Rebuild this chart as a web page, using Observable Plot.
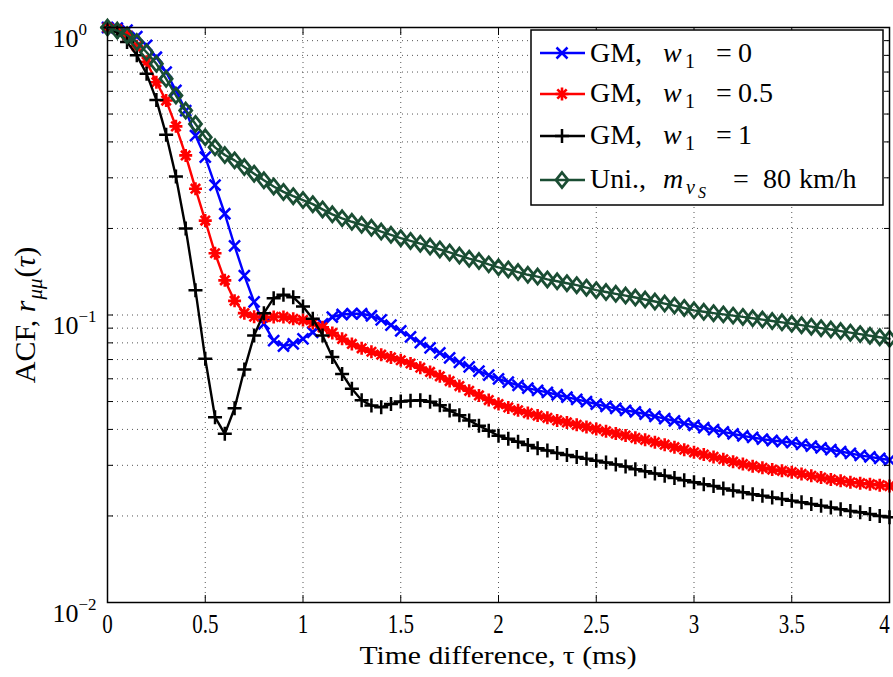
<!DOCTYPE html>
<html><head><meta charset="utf-8">
<script src="https://cdn.jsdelivr.net/npm/d3@7"></script>
<script src="https://cdn.jsdelivr.net/npm/@observablehq/plot@0.6"></script>
<style>
body{margin:0;background:#fff;}
#chart{width:893px;height:677px;}
</style></head><body><div id="chart"></div>
<script>
const tau = [0,0.05,0.1,0.15,0.2,0.25,0.3,0.35,0.4,0.45,0.5,0.55,0.6,0.65,0.7,0.75,0.8,0.85,0.9,0.95,
1,1.05,1.1,1.15,1.2,1.25,1.3,1.35,1.4,1.45,1.5,1.55,1.6,1.65,1.7,1.75,1.8,1.85,1.9,1.95,
2,2.05,2.1,2.15,2.2,2.25,2.3,2.35,2.4,2.45,2.5,2.55,2.6,2.65,2.7,2.75,2.8,2.85,2.9,2.95,
3,3.05,3.1,3.15,3.2,3.25,3.3,3.35,3.4,3.45,3.5,3.55,3.6,3.65,3.7,3.75,3.8,3.85,3.9,3.95,4];

const gmW0 = [1.0,0.995,0.98,0.93,0.866,0.788,0.699,0.604,0.514,0.421,0.354,0.283,0.225,0.174,0.137,0.111,0.0932,0.0815,0.0779,0.0794,
0.0826,0.0871,0.0932,0.0983,0.1004,0.101,0.101,0.0994,0.0962,0.0922,0.0880,0.0840,0.0802,0.0768,0.0738,0.0709,0.0684,0.066,0.0638,0.0618,
0.06,0.0584,0.0569,0.0557,0.0547,0.0538,0.0528,0.0518,0.0509,0.05,0.049,0.0481,0.0473,0.0466,0.046,0.0452,0.0444,0.0436,0.0428,0.042,
0.0413,0.0406,0.0399,0.0392,0.0386,0.038,0.0375,0.037,0.0366,0.0363,0.036,0.0355,0.035,0.0345,0.034,0.0335,0.033,0.0325,0.0321,0.0317,0.0313];

const gmW05 = [1.0,0.985,0.94,0.86,0.76,0.645,0.557,0.453,0.359,0.275,0.213,0.164,0.132,0.112,0.1015,0.0987,0.098,0.0985,0.0985,0.097,
0.096,0.0937,0.0906,0.0866,0.0826,0.0793,0.0766,0.0745,0.0728,0.0712,0.0696,0.0678,0.0656,0.0634,0.0612,0.0589,0.0566,0.0545,0.0525,0.0506,
0.049,0.0477,0.0466,0.0456,0.0447,0.0439,0.043,0.0423,0.0415,0.0408,0.0401,0.0394,0.0387,0.0381,0.0374,0.0368,0.0361,0.0354,0.0347,0.034,
0.0333,0.0327,0.0321,0.0315,0.0309,0.0303,0.0298,0.0294,0.029,0.0287,0.0284,0.028,0.0276,0.0272,0.0268,0.0265,0.0262,0.026,0.0258,0.0256,0.0254];

const gmW1 = [1.0,0.965,0.89,0.80,0.69,0.56,0.424,0.303,0.2,0.122,0.0704,0.0441,0.0386,0.0474,0.0646,0.0849,0.1015,0.1144,0.1175,0.1153,
0.107,0.097,0.0849,0.0714,0.0624,0.0554,0.0505,0.0484,0.0478,0.049,0.05,0.0503,0.0505,0.0499,0.0485,0.0465,0.0448,0.043,0.0412,0.0396,
0.038,0.0371,0.0362,0.0353,0.0344,0.0338,0.0331,0.0326,0.0321,0.0316,0.0311,0.0307,0.0302,0.0297,0.0291,0.0286,0.0281,0.0276,0.0271,0.0266,
0.0262,0.0258,0.0254,0.0249,0.0245,0.0242,0.0238,0.0235,0.0232,0.0229,0.0226,0.0223,0.022,0.0217,0.0214,0.0211,0.0208,0.0206,0.0203,0.02,0.0198];

const uni80 = [1.0,0.976,0.94,0.89,0.82,0.748,0.663,0.58,0.514,0.462,0.415,0.383,0.36,0.345,0.327,0.31,0.294,0.28,0.268,0.259,
0.251,0.243,0.233,0.224,0.217,0.211,0.206,0.201,0.195,0.19,0.185,0.181,0.177,0.173,0.169,0.165,0.161,0.157,0.154,0.15,
0.1465,0.144,0.141,0.138,0.136,0.133,0.131,0.129,0.127,0.1245,0.122,0.1202,0.1185,0.1168,0.115,0.1132,0.1114,0.1096,0.1078,0.1058,
0.1038,0.1026,0.1015,0.1005,0.0995,0.0985,0.0974,0.0964,0.0953,0.0943,0.0932,0.0922,0.0911,0.09,0.089,0.0879,0.0868,0.0858,0.0847,0.0837,0.0826];

const xTicks = [0,0.5,1,1.5,2,2.5,3,3.5,4];
const xTickLabels = ["0","0.5","1","1.5","2","2.5","3","3.5","4"];
const yGrid = [0.01,0.02,0.03,0.04,0.05,0.06,0.07,0.08,0.09,0.1,0.2,0.3,0.4,0.5,0.6,0.7,0.8,0.9,1];
const yDecades = [0.01,0.1,1];
const yExp = ["\u22122","\u22121","0"];

// custom marker shapes (MATLAB-like)
const symX = {draw(c, s){const r=Math.sqrt(s/Math.PI); c.moveTo(-r,-r); c.lineTo(r,r); c.moveTo(-r,r); c.lineTo(r,-r);}};
const symStar = {draw(c, s){const r=Math.sqrt(s/Math.PI); const q=r*0.72; c.moveTo(-r,0); c.lineTo(r,0); c.moveTo(0,-r); c.lineTo(0,r); c.moveTo(-q,-q); c.lineTo(q,q); c.moveTo(-q,q); c.lineTo(q,-q);}};
const symPlus = {draw(c, s){const r=Math.sqrt(s/Math.PI); c.moveTo(-r,0); c.lineTo(r,0); c.moveTo(0,-r); c.lineTo(0,r);}};
const symDiamond = {draw(c, s){const r=Math.sqrt(s/Math.PI); const w=r*0.8; c.moveTo(0,-r); c.lineTo(w,0); c.lineTo(0,r); c.lineTo(-w,0); c.closePath();}};

const series = [
  {key:"w0", values: gmW0, color:"#0000ff", symbol: symX, r:5.5, sw:2.5},
  {key:"w05", values: gmW05, color:"#ff0000", symbol: symStar, r:6.5, sw:2.6},
  {key:"w1", values: gmW1, color:"#000000", symbol: symPlus, r:7, sw:2.5},
  {key:"uni", values: uni80, color:"#1a4d33", symbol: symDiamond, r:7.5, sw:2.8}
];
const rowsOf = s => tau.map((t,i) => ({t, v: s.values[i]}));

const gridStyle = {stroke:"#555", strokeOpacity:1, strokeWidth:1, strokeDasharray:"1,4"};
const marks = [
  Plot.gridX(xTicks, gridStyle),
  Plot.gridY(yGrid, gridStyle)
];
for (const s of series) {
  const rows = rowsOf(s);
  marks.push(Plot.line(rows, {x:"t", y:"v", stroke:s.color, strokeWidth:2.4}));
  marks.push(Plot.dot(rows, {x:"t", y:"v", symbol:s.symbol, r:s.r, stroke:s.color, fill:"none", strokeWidth:s.sw}));
}
marks.push(
  Plot.frame({stroke:"black", strokeWidth:1.5}),
  Plot.axisX(xTicks, {anchor:"bottom", tickSize:-7, tickFormat:()=>"", label:null}),
  Plot.axisX(xTicks, {anchor:"top", tickSize:-7, tickFormat:()=>"", label:null}),
  Plot.axisY(yGrid, {anchor:"left", tickSize:-6, tickFormat:()=>"", label:null}),
  Plot.axisY(yGrid, {anchor:"right", tickSize:-6, tickFormat:()=>"", label:null}),
  Plot.axisX(xTicks, {anchor:"bottom", tickSize:0, tickPadding:11, fontSize:28, tickFormat:(d)=>xTickLabels[xTicks.indexOf(d)], label:null}),
  Plot.axisY(yDecades, {anchor:"left", tickSize:0, tickPadding:55, textAnchor:"start", fontSize:26, tickFormat:d=>yExp[yDecades.indexOf(d)], label:null})
);

const plot = Plot.plot({
  width: 893, height: 677,
  marginLeft: 107, marginRight: 4, marginTop: 27, marginBottom: 75,
  style: {fontFamily:"'Liberation Serif', 'Times New Roman', serif", color:"black", background:"white", overflow:"visible"},
  x: {domain:[0,4], label:null},
  y: {type:"log", domain:[0.01,1], label:null},
  marks
});
document.getElementById("chart").appendChild(plot);

const svg = d3.select(plot);
// condense x tick labels like the original; keep the last one inside the picture
svg.selectAll('g[aria-label="x-axis tick label"] text').each(function(){
  const el = d3.select(this);
  const txt = el.text();
  if (!txt) return;
  const nudge = txt === xTickLabels[xTickLabels.length - 1] ? " translate(-5,0)" : "";
  el.attr("transform", (el.attr("transform")||"") + nudge + " scale(0.75,1)");
});
// y tick labels as 10^k with real superscripts
svg.selectAll('g[aria-label="y-axis tick label"] text').each(function(){
  const el = d3.select(this);
  const exp = el.text();
  if (!exp) return;
  el.text("");
  el.attr("dy","0.42em");
  el.append("tspan").text("10");
  el.append("tspan").attr("dy",-12).attr("font-size",17).text(exp);
});

const xs = plot.scale("x");
const midX = (xs.range[0] + xs.range[1]) / 2;
// x label
svg.append("text").attr("x", midX).attr("y", 664).attr("text-anchor","middle")
  .attr("font-size",26).attr("textLength",277).attr("lengthAdjust","spacingAndGlyphs")
  .attr("fill","black").text("Time difference, \u03c4 (ms)");
// y label
const yl = svg.append("text").attr("transform", `translate(35,315) rotate(-90)`)
  .attr("text-anchor","middle").attr("font-size",30).attr("fill","black");
yl.append("tspan").text("ACF, ");
yl.append("tspan").attr("font-style","italic").text("r");
yl.append("tspan").attr("font-style","italic").attr("font-size",21).attr("dy",7).attr("dx",1).text("\u03bc\u03bc");
yl.append("tspan").attr("dy",-7).attr("dx",1).text("(");
yl.append("tspan").attr("font-style","italic").text("\u03c4");
yl.append("tspan").text(")");

// legend
const legendNames = [
  [{t:"GM,",x:590},{t:"w",x:663,it:true},{t:"1",sub:true,x:685},{t:"=",x:716},{t:"0",x:738}],
  [{t:"GM,",x:590},{t:"w",x:663,it:true},{t:"1",sub:true,x:685},{t:"=",x:716},{t:"0.5",x:738}],
  [{t:"GM,",x:590},{t:"w",x:663,it:true},{t:"1",sub:true,x:685},{t:"=",x:716},{t:"1",x:738}],
  [{t:"Uni.,",x:590},{t:"m",x:663,it:true},{t:"v",sub:true,it:true,x:686},{t:"S",subsub:true,it:true,x:698},{t:"=",x:733},{t:"80",x:763},{t:"km/h",x:799}]
];
const markerY = [53, 94, 136, 180];
const baseY = [62, 102, 144, 188];
const lg = svg.append("g").attr("text-anchor","start");
lg.append("rect").attr("x",531).attr("y",30).attr("width",352).attr("height",175)
  .attr("fill","white").attr("stroke","black").attr("stroke-width",1.5);
series.forEach((s,i) => {
  lg.append("line").attr("x1",540).attr("x2",585).attr("y1",markerY[i]).attr("y2",markerY[i])
    .attr("stroke",s.color).attr("stroke-width",2.4);
  lg.append("path").attr("d", d3.symbol(s.symbol, Math.PI*s.r*s.r)())
    .attr("transform",`translate(562,${markerY[i]})`).attr("fill","none").attr("stroke",s.color).attr("stroke-width",s.sw);
  const tx = lg.append("text").attr("y", baseY[i]).attr("font-size",28).attr("fill","black").attr("text-anchor","start");
  let shift = 0;
  for (const p of legendNames[i]) {
    const ts = tx.append("tspan").text(p.t);
    if (p.x !== undefined) ts.attr("x", p.x);
    if (p.it) ts.attr("font-style","italic");
    let target = 0;
    if (p.sub) { target = 6; ts.attr("font-size",20); }
    if (p.subsub) { target = 10; ts.attr("font-size",16); }
    ts.attr("dy", target - shift); shift = target;
  }
});
</script></body></html>
